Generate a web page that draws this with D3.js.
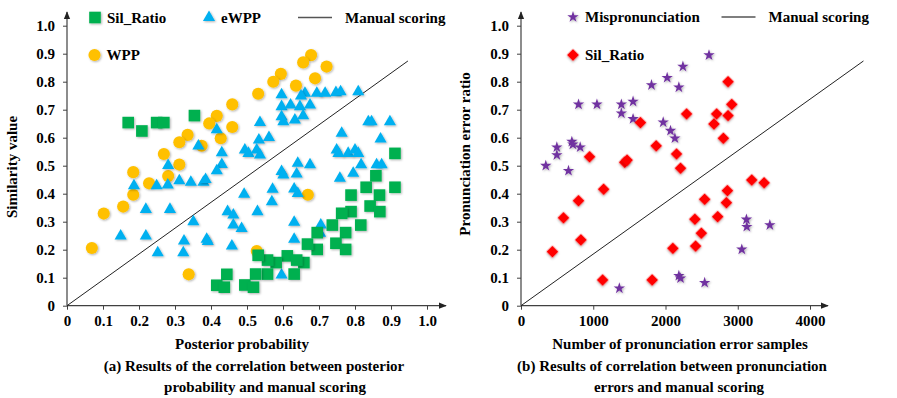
<!DOCTYPE html>
<meta charset="utf-8">
<style>
  body { margin: 0; background: #fff; }
  svg text { font-family: "Liberation Serif", "Times New Roman", serif !important; font-weight: bold; fill: #000; }
</style>
<script src="https://d3js.org/d3.v7.min.js"></script>
<div id="chart"></div>
<script>

// ---- data ----

// (a) posterior probability vs similarity value
var wppPoints = [
  [0.678,0.895],[0.656,0.869],[0.721,0.854],[0.689,0.812],[0.594,0.828],[0.573,0.800],
  [0.636,0.786],[0.531,0.757],[0.459,0.719],[0.416,0.678],[0.395,0.651],[0.459,0.638],
  [0.427,0.598],[0.335,0.610],[0.374,0.571],[0.312,0.584],[0.269,0.542],[0.312,0.504],
  [0.184,0.477],[0.281,0.463],[0.228,0.437],[0.184,0.396],[0.156,0.354],[0.102,0.329],
  [0.069,0.206],[0.338,0.112],[0.527,0.195],[0.669,0.396]
];

var ewppPoints = [
  [0.596,0.753],[0.661,0.759],[0.650,0.749],[0.694,0.759],[0.717,0.759],[0.747,0.761],
  [0.760,0.764],[0.809,0.764],[0.596,0.711],[0.621,0.717],[0.647,0.711],[0.675,0.717],
  [0.596,0.675],[0.601,0.657],[0.633,0.663],[0.656,0.678],[0.536,0.654],[0.837,0.657],
  [0.846,0.657],[0.897,0.657],[0.763,0.616],[0.871,0.595],[0.416,0.628],[0.533,0.592],
  [0.561,0.601],[0.365,0.570],[0.430,0.546],[0.494,0.556],[0.504,0.544],[0.527,0.556],
  [0.536,0.538],[0.749,0.556],[0.754,0.544],[0.781,0.544],[0.800,0.556],[0.809,0.544],
  [0.281,0.501],[0.430,0.504],[0.416,0.482],[0.596,0.479],[0.641,0.509],[0.675,0.503],
  [0.601,0.467],[0.638,0.470],[0.758,0.455],[0.795,0.473],[0.817,0.503],[0.860,0.503],
  [0.874,0.503],[0.186,0.428],[0.249,0.428],[0.280,0.431],[0.312,0.446],[0.344,0.441],
  [0.379,0.441],[0.385,0.451],[0.492,0.398],[0.571,0.416],[0.569,0.371],[0.631,0.417],
  [0.641,0.401],[0.219,0.344],[0.286,0.344],[0.351,0.300],[0.446,0.336],[0.462,0.324],
  [0.462,0.288],[0.485,0.276],[0.529,0.336],[0.631,0.298],[0.705,0.288],[0.703,0.259],
  [0.149,0.249],[0.219,0.249],[0.325,0.231],[0.388,0.237],[0.391,0.229],[0.458,0.213],
  [0.252,0.189],[0.323,0.189],[0.631,0.237],[0.596,0.110]
];

var silRatioA = [
  [0.170,0.654],[0.208,0.624],[0.249,0.654],[0.269,0.654],[0.354,0.679],[0.911,0.544],
  [0.911,0.423],[0.858,0.464],[0.831,0.423],[0.868,0.395],[0.789,0.395],[0.842,0.356],
  [0.869,0.336],[0.789,0.336],[0.763,0.330],[0.816,0.288],[0.737,0.288],[0.774,0.261],
  [0.695,0.261],[0.747,0.223],[0.774,0.201],[0.695,0.201],[0.668,0.220],[0.658,0.154],
  [0.631,0.113],[0.612,0.178],[0.638,0.163],[0.581,0.154],[0.557,0.163],[0.557,0.113],
  [0.531,0.180],[0.524,0.113],[0.494,0.074],[0.518,0.066],[0.444,0.112],[0.416,0.073],
  [0.437,0.066]
];

var manualLineA = [[0, 0], [0.947, 0.874]];

// (b) number of pronunciation errors vs error ratio
var mispronPoints = [
  [2602,0.895],[2241,0.854],[2023,0.814],[2185,0.780],[1806,0.788],[796,0.719],
  [1051,0.719],[1389,0.719],[1551,0.729],[1389,0.687],[1551,0.667],[1968,0.655],
  [2069,0.625],[2130,0.598],[704,0.586],[718,0.576],[819,0.566],[496,0.566],
  [496,0.538],[343,0.500],[657,0.482],[3120,0.308],[3125,0.282],[3444,0.288],
  [3056,0.201],[2185,0.107],[2208,0.098],[2542,0.082],[1361,0.062]
];

var silRatioB = [
  [2866,0.800],[2917,0.719],[2708,0.685],[2866,0.679],[2671,0.649],[2292,0.685],
  [2801,0.598],[1653,0.654],[1871,0.571],[2153,0.542],[949,0.532],[1435,0.512],
  [1468,0.520],[2208,0.491],[3194,0.449],[3365,0.439],[2857,0.411],[2843,0.368],
  [2542,0.380],[2722,0.318],[2407,0.309],[2496,0.259],[2417,0.213],[2102,0.205],
  [1144,0.416],[796,0.375],[588,0.314],[829,0.235],[435,0.193],[1130,0.092],
  [1815,0.092]
];

var manualLineB = [[0, 0], [4740, 0.874]];

// tick values
var ticksA = [0, 0.1, 0.2, 0.3, 0.4, 0.5, 0.6, 0.7, 0.8, 0.9, 1.0];
var ticksY = [0, 0.1, 0.2, 0.3, 0.4, 0.5, 0.6, 0.7, 0.8, 0.9, 1.0];
var ticksB = [0, 1000, 2000, 3000, 4000];

// colours
var cGreen = "#00b050", cBlue = "#00b0f0", cYellow = "#ffc000",
    cPurple = "#7030a0", cRed = "#ff0000";

var width = 897, height = 398;
var serif = '"Liberation Serif", "Times New Roman", serif';

var svg = d3.select("#chart")
  .append("svg")
    .attr("width", width)
    .attr("height", height)
    .style("font-family", serif);

var defs = svg.append("defs");
defs.append("marker")
    .attr("id", "arrow")
    .attr("viewBox", "0 0 10 10")
    .attr("refX", 9).attr("refY", 5)
    .attr("markerWidth", 8).attr("markerHeight", 8)
    .attr("markerUnits", "userSpaceOnUse")
    .attr("orient", "auto")
  .append("path")
    .attr("d", "M0,1 L10,5 L0,9 Z")
    .attr("fill", "#222");

var shadow = defs.append("filter").attr("id", "shadow")
    .attr("x", "-50%").attr("y", "-50%").attr("width", "200%").attr("height", "200%");
shadow.append("feDropShadow")
    .attr("dx", 1).attr("dy", 1).attr("stdDeviation", 0.8)
    .attr("flood-color", "#000").attr("flood-opacity", 0.3);

var tickFmt = function(d) { return d === 0 ? "0" : d3.format(".1f")(d); };

function styleTicks(g) {
  g.select(".domain").remove();
  g.selectAll("line").attr("stroke", "#404040");
  g.attr("font-family", serif);
  g.selectAll("text").attr("font-size", 15).style("font-family", serif).style("font-weight", "bold");
}

// draw axes for one panel
function drawAxes(x, y, xTicks, xFormat, arrowEndX) {
  var x0 = x.range()[0], y0 = y.range()[0];

  svg.append("g")
      .attr("transform", "translate(" + x0 + ",0)")
      .call(d3.axisLeft(y).tickValues(ticksY).tickFormat(tickFmt)
        .tickSize(4).tickSizeOuter(0).tickPadding(8))
      .call(styleTicks);

  svg.append("g")
      .attr("transform", "translate(0," + y0 + ")")
      .call(d3.axisBottom(x).tickValues(xTicks).tickFormat(xFormat)
        .tickSize(4).tickSizeOuter(0).tickPadding(6))
      .call(styleTicks);

  svg.append("line")
      .attr("x1", x0).attr("y1", y0).attr("x2", x0).attr("y2", 12)
      .attr("stroke", "#404040").attr("stroke-width", 1.2)
      .attr("marker-end", "url(#arrow)");
  svg.append("line")
      .attr("x1", x0).attr("y1", y0).attr("x2", arrowEndX).attr("y2", y0)
      .attr("stroke", "#404040").attr("stroke-width", 1.2)
      .attr("marker-end", "url(#arrow)");
}

function drawPoints(data, x, y, symbol, size, color, rotate) {
  svg.append("g")
    .selectAll("path")
    .data(data)
    .enter()
    .append("path")
      .attr("d", d3.symbol().type(symbol).size(size))
      .attr("transform", function(d) {
        return "translate(" + x(d[0]) + "," + y(d[1]) + ")" + (rotate ? " rotate(" + rotate + ")" : "");
      })
      .attr("fill", color)
      .attr("filter", "url(#shadow)");
}

function drawManual(data, x, y) {
  svg.append("path")
      .datum(data)
      .attr("fill", "none")
      .attr("stroke", "#222")
      .attr("stroke-width", 1)
      .attr("d", d3.line().x(function(d) { return x(d[0]); }).y(function(d) { return y(d[1]); }));
}

function label(x, y, txt, size, rotate) {
  return svg.append("text")
      .attr("transform", "translate(" + x + "," + y + ")" + (rotate ? " rotate(" + rotate + ")" : ""))
      .attr("text-anchor", "middle")
      .attr("font-size", size)
      .style("font-family", serif)
      .style("font-weight", "bold")
      .text(txt);
}

function legendItem(px, py, symbol, size, color, rotate, txt) {
  if (symbol) {
    svg.append("path")
        .attr("d", d3.symbol().type(symbol).size(size))
        .attr("transform", "translate(" + px + "," + py + ")" + (rotate ? " rotate(" + rotate + ")" : ""))
        .attr("fill", color)
        .attr("filter", "url(#shadow)");
  } else {
    svg.append("line")
        .attr("x1", px - 17).attr("x2", px + 17).attr("y1", py).attr("y2", py)
        .attr("stroke", "#555").attr("stroke-width", 1.3);
  }
  svg.append("text")
      .attr("x", px + (symbol ? 12 : 30))
      .attr("y", py + 5)
      .attr("font-size", 15)
      .style("font-family", serif)
      .style("font-weight", "bold")
      .text(txt);
}

// ---------- panel (a) ----------
var xA = d3.scaleLinear().domain([0, 1]).range([67, 427]);
var yA = d3.scaleLinear().domain([0, 1]).range([305.7, 25.7]);

drawAxes(xA, yA, ticksA, tickFmt, 446);
drawManual(manualLineA, xA, yA);
drawPoints(wppPoints, xA, yA, d3.symbolCircle, 115, cYellow);
drawPoints(ewppPoints, xA, yA, d3.symbolTriangle, 64, cBlue);
drawPoints(silRatioA, xA, yA, d3.symbolSquare, 135, cGreen);

legendItem(95, 17.5, d3.symbolSquare, 135, cGreen, 0, "Sil_Ratio");
legendItem(209, 17.5, d3.symbolTriangle, 64, cBlue, 0, "eWPP");
legendItem(315, 17.5, null, 0, null, 0, "Manual scoring");
legendItem(94.5, 55, d3.symbolCircle, 115, cYellow, 0, "WPP");

label(242, 349, "Posterior probability", 15);
label(17, 167, "Similarity value", 15, -90);
label(254, 371, "(a) Results of the correlation between posterior", 15);
label(265, 392, "probability and manual scoring", 15);

// ---------- panel (b) ----------
var xB = d3.scaleLinear().domain([0, 4000]).range([521, 810]);
var yB = d3.scaleLinear().domain([0, 1]).range([305.7, 25.7]);

drawAxes(xB, yB, ticksB, d3.format("d"), 828);
drawManual(manualLineB, xB, yB);
drawPoints(mispronPoints, xB, yB, d3.symbolStar, 40, cPurple);
drawPoints(silRatioB, xB, yB, d3.symbolSquare, 72, cRed, 45);

legendItem(573, 17, d3.symbolStar, 40, cPurple, 0, "Mispronunciation");
legendItem(738.5, 17, null, 0, null, 0, "Manual scoring");
legendItem(573, 55, d3.symbolSquare, 72, cRed, 45, "Sil_Ratio");

label(680, 349, "Number of pronunciation error samples", 15);
label(470, 154, "Pronunciation error ratio", 15, -90);
label(672, 371, "(b) Results of correlation between pronunciation", 15);
label(679, 392, "errors and manual scoring", 15);

</script>
